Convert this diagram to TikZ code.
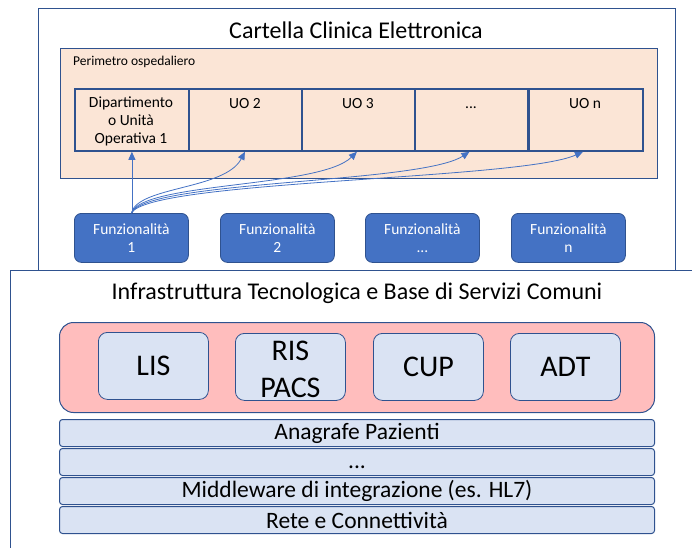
\documentclass[tikz,border=0pt]{standalone}
\usepackage{fontspec}
\setmainfont{Carlito}
\usetikzlibrary{arrows.meta}
\definecolor{bord}{HTML}{2F528F}
\definecolor{peach}{HTML}{FBE5D6}
\definecolor{funz}{HTML}{4472C4}
\definecolor{pinkf}{HTML}{FFBDBD}
\definecolor{lblue}{HTML}{DAE3F3}
\tikzset{
  cell/.style={draw=bord,line width=1.8pt,fill=peach,minimum width=114pt,minimum height=62pt,inner sep=0pt,anchor=north west},
  celltxt/.style={font=\fontsize{15.5}{18}\selectfont,align=center,anchor=base,inner sep=0pt},
  funzbox/.style={draw=bord,line width=0.8pt,fill=funz,rounded corners=7pt,minimum width=114pt,minimum height=49pt,anchor=north west,text=white,font=\fontsize{15.5}{18}\selectfont,align=center,inner sep=0pt},
  sysbox/.style={draw=bord,line width=0.8pt,fill=lblue,rounded corners=9pt,minimum width=110pt,minimum height=67pt,anchor=north west,inner sep=0pt},
  systxt/.style={font=\fontsize{30}{37}\selectfont,align=center},
  layer/.style={draw=bord,line width=1pt,fill=lblue,rounded corners=3pt,minimum width=595pt,minimum height=27pt,anchor=north west,inner sep=0pt},
  layertxt/.style={font=\fontsize{23.5}{26}\selectfont,inner sep=0pt},
  conn/.style={draw=funz,line width=0.8pt,-{Triangle[length=8pt,width=7pt]}},
}
\begin{document}
\begin{tikzpicture}[x=1pt,y=-1pt]
\useasboundingbox (0,0) rectangle (692,547);
% top box
\node[draw=bord,line width=0.8pt,minimum width=637pt,minimum height=262pt,anchor=north west,inner sep=0pt] (cce) at (38,8) {};
\node[font=\fontsize{24}{28}\selectfont] (ccet) at (356,30) {Cartella Clinica Elettronica};
% perimetro
\node[draw=bord,line width=1pt,fill=peach,minimum width=597pt,minimum height=130pt,anchor=north west,inner sep=0pt] (per) at (60,48) {};
\node[font=\fontsize{13.5}{16}\selectfont,anchor=west,inner sep=0pt] (pert) at (73,62) {Perimetro ospedaliero};
% cells
\node[cell] (u1) at (74,88) {};
\node[cell] (u2) at (188,88) {};
\node[cell] (u3) at (301,88) {};
\node[cell,minimum width=113pt] (u4) at (414,88) {};
\node[cell] (u5) at (528,88) {};
\node[celltxt,anchor=north] (u1t) at (131,97) {Dipartimento\\o Unità\\Operativa 1};
\node[celltxt] (u2t) at (245,108) {UO 2};
\node[celltxt] (u3t) at (358,108) {UO 3};
\node[celltxt] (u4t) at (471,108) {...};
\node[celltxt] (u5t) at (585,108) {UO n};
% funzionalita
\node[funzbox] (f1) at (74,213) {Funzionalità\\1};
\node[funzbox] (f2) at (220,213) {Funzionalità\\2};
\node[funzbox] (f3) at (365,213) {Funzionalità\\...};
\node[funzbox] (f4) at (511,213) {Funzionalità\\n};
% connectors
\draw[conn] (f1.north -| u1.south) -- (u1.south);
\draw[conn] (f1.north) .. controls (138,186) and (225,190) .. ([xshift=-1pt]u2.south);
\draw[conn] (f1.north) .. controls (142,182) and (320,188) .. ([xshift=-2pt]u3.south);
\draw[conn] (f1.north) .. controls (146,180) and (420,184) .. ([xshift=-2pt]u4.south);
\draw[conn] (f1.north) .. controls (150,180) and (520,180) .. ([xshift=-3pt]u5.south);
% infrastructure box
\draw[bord,line width=0.8pt] (10,560) -- (10,270) -- (700,270);
\node[font=\fontsize{24}{28}\selectfont] (inft) at (357,293) {Infrastruttura Tecnologica e Base di Servizi Comuni};
\node[draw=bord,line width=1pt,fill=pinkf,rounded corners=14pt,minimum width=595pt,minimum height=90pt,anchor=north west,inner sep=0pt] (pink) at (59,322) {};
\node[sysbox] (lis) at (98,332) {};
\node[sysbox] (ris) at (235,333) {};
\node[sysbox] (cup) at (373,333) {};
\node[sysbox] (adt) at (510,333) {};
\node[systxt] (list) at (lis.center) {LIS};
\node[systxt] (rist) at ([yshift=-2pt]ris.center) {RIS\\PACS};
\node[systxt] (cupt) at (cup.center) {CUP};
\node[systxt] (adtt) at (adt.center) {ADT};
\node[layer] (l1) at (59,419) {};
\node[layer] (l2) at (59,448) {};
\node[layer] (l3) at (59,477) {};
\node[layer] (l4) at (59,506) {};
\node[layertxt] (l1t) at (l1.center) {Anagrafe Pazienti};
\node[layertxt] (l2t) at ([yshift=-5pt]l2.center) {...};
\node[layertxt] (l3t) at (l3.center) {Middleware di integrazione (es. HL7)};
\node[layertxt] (l4t) at (l4.center) {Rete e Connettività};
\end{tikzpicture}
\end{document}
